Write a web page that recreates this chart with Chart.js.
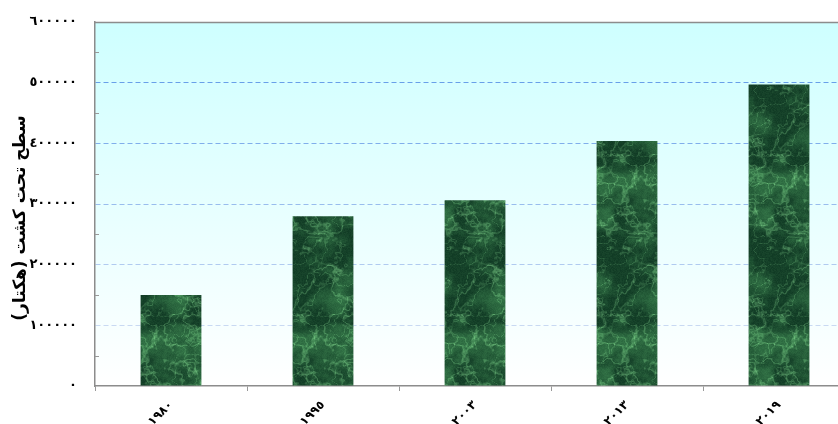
<!DOCTYPE html>
<html>
<head>
<meta charset="utf-8">
<script src="https://cdn.jsdelivr.net/npm/chart.js@4/dist/chart.umd.min.js"></script>
<style>
  html, body { margin: 0; padding: 0; background: #fff; overflow: hidden; }
  #wrap { position: relative; width: 860px; height: 424px; }
  canvas { direction: rtl; }
</style>
</head>
<body>
<div id="wrap"><canvas id="chart" dir="rtl"></canvas></div>
<script>
// داده‌ها
const years = ['١٩٨٠', '١٩٩٥', '٢٠٠٣', '٢٠١٣', '٢٠١٩'];
const areaHa = [150000, 280000, 306000, 404000, 497000];
const yTickValues = [0, 100000, 200000, 300000, 400000, 500000, 600000];
const yTickLabels = ['٠', '١٠٠٠٠٠', '٢٠٠٠٠٠', '٣٠٠٠٠٠', '٤٠٠٠٠٠', '٥٠٠٠٠٠', '٦٠٠٠٠٠'];
const yTitle = 'سطح تحت کشت (هکتار)';

const FONT = "'DejaVu Sans', sans-serif";

// بافت سنگ مرمر سبز برای ستون‌ها (کاشی بدون درز)
function marblePattern() {
  const w = 80, h = 160;
  const off = document.createElement('canvas');
  off.width = w; off.height = h;
  const c = off.getContext('2d');
  const img = c.createImageData(w, h);
  const mod = (a, p) => ((a % p) + p) % p;
  const hash = (x, y) => {
    let n = (x * 374761393 + y * 668265263) | 0;
    n = (n ^ (n >>> 13)) * 1274126177 | 0;
    return ((n ^ (n >>> 16)) >>> 0) / 4294967295;
  };
  const noise = (x, y, px, py) => {
    const xi = Math.floor(x), yi = Math.floor(y);
    const xf = x - xi, yf = y - yi;
    const s = t => t * t * (3 - 2 * t);
    const x0 = mod(xi, px), x1 = mod(xi + 1, px), y0 = mod(yi, py), y1 = mod(yi + 1, py);
    const a = hash(x0, y0), b = hash(x1, y0), cc = hash(x0, y1), d = hash(x1, y1);
    return a + (b - a) * s(xf) + (cc - a) * s(yf) + (a - b - cc + d) * s(xf) * s(yf);
  };
  // cell = اندازه سلول به پیکسل، باید w و h بر آن بخش‌پذیر باشند
  const fbm = (x, y, cell, oct, seed) => {
    let f = 0, amp = 0.5, norm = 0;
    let px = w / cell, py = h / cell, fx = x / cell, fy = y / cell;
    for (let o = 0; o < oct; o++) {
      f += amp * noise(fx + seed * 7, fy + seed * 13, px, py);
      norm += amp; amp *= 0.5; fx *= 2; fy *= 2; px *= 2; py *= 2;
    }
    return f / norm;
  };
  for (let y = 0; y < h; y++) {
    for (let x = 0; x < w; x++) {
      const cloud = fbm(x, y, 20, 4, 0);
      const n1 = fbm(x, y, 16, 4, 3);
      const n2 = fbm(x, y, 10, 3, 5);
      const v1 = Math.max(0, 1 - Math.abs(n1 - 0.5) / 0.05);
      const v2 = Math.max(0, 1 - Math.abs(n2 - 0.5) / 0.045);
      const grain = hash(x + 500, y + 900);
      const vein = Math.min(1, v1 * 0.6 + v2 * 0.45 + grain * 0.15);
      const t = Math.min(1, Math.max(0, (cloud - 0.3) / 0.4));
      const i = (y * w + x) * 4;
      img.data[i]     = 16 + t * 28 + vein * 60;
      img.data[i + 1] = 58 + t * 48 + vein * 80;
      img.data[i + 2] = 36 + t * 28 + vein * 55;
      img.data[i + 3] = 255;
    }
  }
  c.putImageData(img, 0, 0);
  return c.createPattern(off, 'repeat');
}

// پس‌زمینه ناحیه نمودار، تیک‌های فرعی و عنوان محور
const plotBackground = {
  id: 'plotBackground',
  beforeDraw(chart) {
    const { ctx, chartArea: a } = chart;
    const g = ctx.createLinearGradient(0, a.top, 0, a.bottom);
    g.addColorStop(0, '#ceffff');
    g.addColorStop(1, '#ffffff');
    ctx.save();
    ctx.fillStyle = g;
    ctx.fillRect(a.left, a.top, a.right - a.left, a.bottom - a.top);
    ctx.restore();
  },
  afterDraw(chart) {
    const { ctx, chartArea: a, scales: { y } } = chart;
    ctx.save();
    ctx.strokeStyle = '#999';
    ctx.lineWidth = 1;
    for (let i = 0; i < yTickValues.length - 1; i++) {
      const py = Math.round(y.getPixelForValue((yTickValues[i] + yTickValues[i + 1]) / 2)) + 0.5;
      ctx.beginPath();
      ctx.moveTo(a.left, py);
      ctx.lineTo(a.left + 4, py);
      ctx.stroke();
    }
    ctx.beginPath();
    ctx.moveTo(a.left, a.top + 0.5);
    ctx.lineTo(a.right, a.top + 0.5);
    ctx.lineWidth = 1.5;
    ctx.strokeStyle = '#8c8c8c';
    ctx.stroke();

    // عنوان محور عمودی
    ctx.translate(21, (a.top + a.bottom) / 2 + 14);
    ctx.rotate(-Math.PI / 2);
    ctx.direction = 'rtl';
    ctx.textAlign = 'center';
    ctx.textBaseline = 'middle';
    ctx.fillStyle = '#000';
    ctx.font = `bold 17px ${FONT}`;
    ctx.fillText(yTitle, 0, 0);
    ctx.restore();
  }
};

const gridGradient = (context) => {
  const chart = context.chart;
  const a = chart.chartArea;
  if (!a) return 'rgba(0,0,0,0)';
  const v = context.tick && context.tick.value;
  if (v === 0 || v === 600000) return 'rgba(0,0,0,0)';
  const g = chart.ctx.createLinearGradient(0, a.top, 0, a.bottom);
  g.addColorStop(0, 'rgb(80,145,230)');
  g.addColorStop(1, 'rgb(225,232,245)');
  return g;
};

new Chart(document.getElementById('chart'), {
  type: 'bar',
  data: {
    labels: years,
    datasets: [{
      data: areaHa,
      backgroundColor: marblePattern(),
      borderWidth: 0,
      barPercentage: 0.4,
      categoryPercentage: 1
    }]
  },
  plugins: [plotBackground],
  options: {
    responsive: true,
    maintainAspectRatio: false,
    animation: false,
    layout: { padding: { top: 22, right: 5, left: 0, bottom: 0 } },
    plugins: {
      legend: { display: false },
      tooltip: { enabled: false }
    },
    scales: {
      x: {
        afterFit: (scale) => { scale.height = 38; },
        border: { color: '#8c8c8c', width: 1.5 },
        grid: {
          offset: true,
          drawOnChartArea: false,
          color: '#999',
          tickLength: 5
        },
        ticks: {
          autoSkip: false,
          minRotation: 45,
          maxRotation: 45,
          padding: 7,
          color: '#000',
          font: { family: FONT, size: 12, weight: 'bold' }
        }
      },
      y: {
        min: 0,
        max: 600000,
        afterFit: (scale) => { scale.width = 95; },
        afterBuildTicks: (scale) => { scale.ticks = yTickValues.map(v => ({ value: v })); },
        border: { color: '#8c8c8c', width: 1.5, dash: [5, 3] },
        grid: {
          color: gridGradient,
          lineWidth: 1,
          drawTicks: true,
          tickLength: 14,
          tickColor: 'rgba(0,0,0,0)'
        },
        ticks: {
          padding: 4,
          color: '#000',
          font: { family: FONT, size: 13, weight: 'bold' },
          callback: (value, index) => yTickLabels[index]
        }
      }
    }
  }
});
</script>
</body>
</html>
